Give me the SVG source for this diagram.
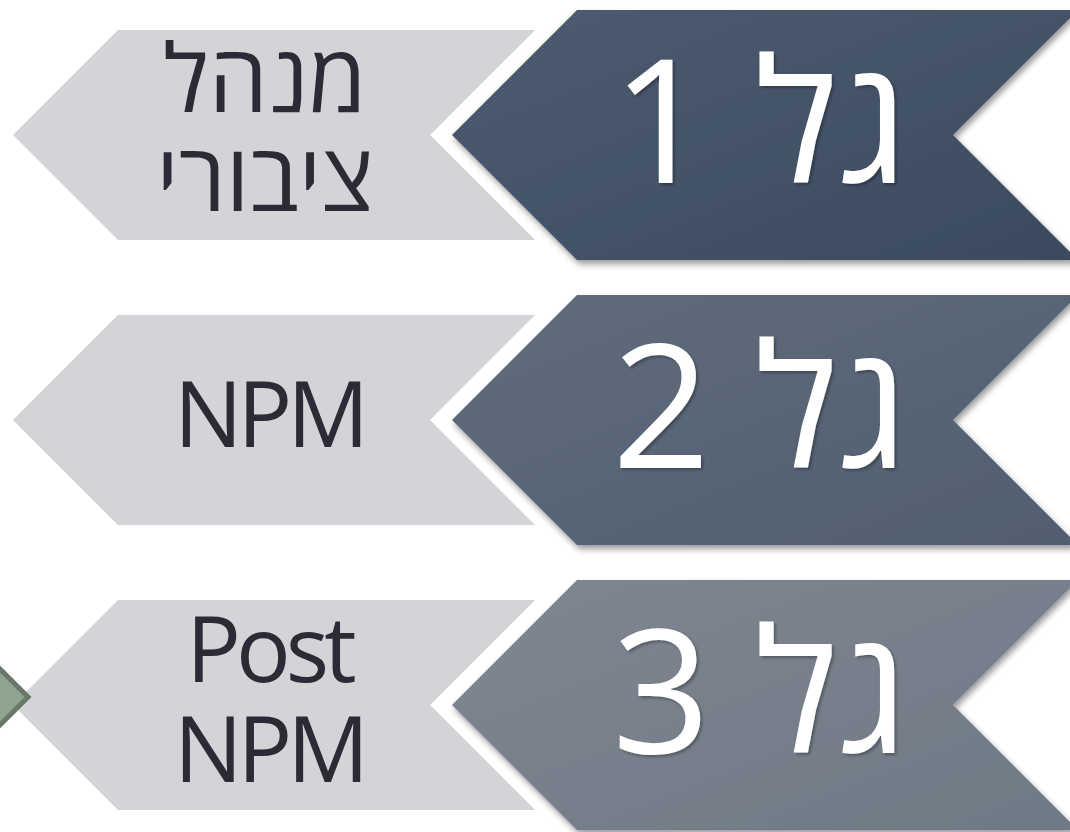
<svg xmlns="http://www.w3.org/2000/svg" width="1070" height="832" viewBox="0 0 1070 832">
<defs>
<style>
.gray{fill:#d3d4d8}
.halo{fill:none;stroke:#ffffff;stroke-width:31;stroke-linejoin:miter;stroke-miterlimit:4}
.lbl{font-family:"Open Sans","Noto Sans","DejaVu Sans",sans-serif;font-size:94px;fill:#2a2b34;text-anchor:middle}
.lat{font-size:91px;letter-spacing:-5px}
.big{font-family:"Open Sans","Noto Sans","DejaVu Sans",sans-serif;font-size:172px;fill:#ffffff;text-anchor:middle}
</style>
<linearGradient id="g1" x1="0" y1="0" x2="1" y2="1">
<stop offset="0" stop-color="#4d5c70"/><stop offset="1" stop-color="#3b4a5f"/>
</linearGradient>
<linearGradient id="g2" x1="0" y1="0" x2="1" y2="1">
<stop offset="0" stop-color="#606c7c"/><stop offset="1" stop-color="#515e70"/>
</linearGradient>
<linearGradient id="g3" x1="0" y1="0" x2="1" y2="1">
<stop offset="0" stop-color="#7e8691"/><stop offset="1" stop-color="#6f7985"/>
</linearGradient>
<filter id="sh" x="-10%" y="-10%" width="120%" height="125%">
<feDropShadow dx="2" dy="4" stdDeviation="3" flood-color="#000000" flood-opacity="0.4"/>
</filter>
<filter id="tsh" x="-10%" y="-10%" width="120%" height="120%">
<feDropShadow dx="2" dy="2" stdDeviation="1.5" flood-color="#000000" flood-opacity="0.3"/>
</filter>
<polygon id="chev" points="452,135 577,10 1078,10 953,135 1078,260 577,260"/>
<polygon id="pent" points="13,135 118,30 600,30 600,240 118,240"/>
</defs>

<g id="connectors"></g>

<g id="wave1-label">
<use href="#pent" class="gray"/>
<text class="lbl" x="265" y="112">מנהל</text>
<text class="lbl" x="265" y="211">ציבורי</text>
</g>
<g id="wave1">
<use href="#chev" class="halo"/>
<use href="#chev" fill="url(#g1)" filter="url(#sh)"/>
<text class="big" x="760" y="183" direction="rtl" unicode-bidi="embed" filter="url(#tsh)">גל 1</text>
</g>

<g id="wave2-label" transform="translate(0,285)">
<use href="#pent" class="gray"/>
<text class="lbl lat" x="269" y="162">NPM</text>
</g>
<g id="wave2" transform="translate(0,285)">
<use href="#chev" class="halo"/>
<use href="#chev" fill="url(#g2)" filter="url(#sh)"/>
<text class="big" x="760" y="183" direction="rtl" unicode-bidi="embed" filter="url(#tsh)">גל 2</text>
</g>

<g id="wave3-label" transform="translate(0,570)">
<use href="#pent" class="gray"/>
<text class="lbl lat" x="269" y="112">Post</text>
<text class="lbl lat" x="269" y="212">NPM</text>
</g>
<g id="marker-diamond">
<polygon points="0,669 28,697 0,725 -28,697" fill="#8fa592" stroke="#6a766a" stroke-width="5"/>
</g>
<g id="wave3" transform="translate(0,570)">
<use href="#chev" class="halo"/>
<use href="#chev" fill="url(#g3)" filter="url(#sh)"/>
<text class="big" x="760" y="183" direction="rtl" unicode-bidi="embed" filter="url(#tsh)">גל 3</text>
</g>
</svg>
